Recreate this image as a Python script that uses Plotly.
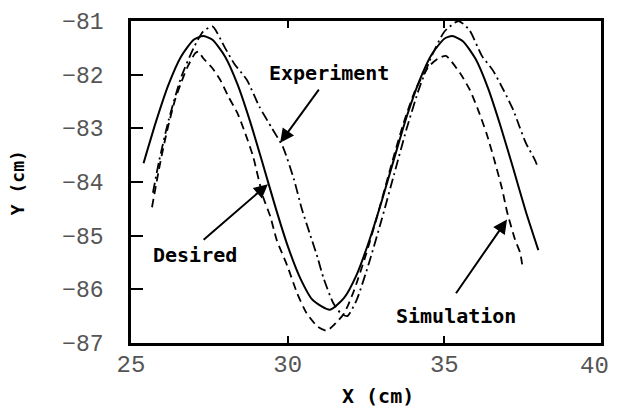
import plotly.graph_objects as go

# Desired (solid)
desired_x = [25.4, 25.8, 26.2, 26.6, 27.0, 27.3, 27.6, 28.0, 28.4, 28.8, 29.2, 29.6, 30.0, 30.4, 30.8,
             31.35, 31.8, 32.2, 32.6, 33.0, 33.4, 33.8, 34.2, 34.6, 35.0, 35.25, 35.6, 36.0, 36.4,
             36.8, 37.2, 37.6, 38.0]
desired_y = [-83.65, -82.87, -82.18, -81.66, -81.35, -81.28, -81.35, -81.66, -82.18, -82.87, -83.65,
             -84.45, -85.19, -85.79, -86.20, -86.38, -86.16, -85.73, -85.10, -84.36, -83.56, -82.78,
             -82.12, -81.62, -81.33, -81.28, -81.38, -81.71, -82.26, -82.97, -83.75, -84.55, -85.27]

# Experiment (dash-dot)
experiment_x = [25.7, 25.9, 26.2, 26.6, 27.0, 27.3, 27.6, 28.0, 28.3, 28.7, 29.1, 29.5, 29.85, 30.2,
                30.45, 30.7, 30.95, 31.15, 31.45, 31.7, 31.9, 32.2, 32.6, 33.0, 33.4, 33.8, 34.2,
                34.6, 35.0, 35.45, 35.8, 36.2, 36.55, 36.9, 37.2, 37.4, 37.6, 37.9, 38.0]
experiment_y = [-84.2, -83.6, -82.85, -82.05, -81.5, -81.2, -81.1, -81.5, -81.8, -82.1, -82.6, -83.0,
                -83.35, -83.95, -84.5, -84.95, -85.4, -85.8, -86.25, -86.45, -86.5, -86.2, -85.5,
                -84.7, -83.85, -83.0, -82.25, -81.65, -81.2, -81.0, -81.17, -81.65, -81.92, -82.3,
                -82.66, -82.97, -83.27, -83.6, -83.75]

# Simulation (dashed)
simulation_x = [25.67, 25.93, 26.15, 26.4, 26.6, 26.8, 27.05, 27.15, 27.3, 27.6, 27.85, 28.1, 28.4,
                28.65, 28.9, 29.2, 29.45, 29.65, 30.0, 30.3, 30.6, 30.95, 31.25, 31.55, 31.8, 32.1,
                32.5, 32.9, 33.3, 33.7, 34.1, 34.5, 34.8, 35.05, 35.5, 35.82, 36.08, 36.35, 36.6,
                36.84, 37.0, 37.26, 37.42, 37.5]
simulation_y = [-84.47, -83.65, -83.05, -82.48, -82.15, -81.86, -81.6, -81.57, -81.69, -81.88, -82.1,
                -82.4, -82.72, -83.1, -83.53, -84.25, -84.65, -85.08, -85.58, -86.07, -86.44, -86.69,
                -86.77, -86.62, -86.45, -86.05, -85.35, -84.55, -83.7, -82.9, -82.25, -81.85, -81.7,
                -81.65, -81.97, -82.29, -82.66, -83.1, -83.6, -84.12, -84.55, -85.08, -85.32, -85.6]

x_ticks = [25, 30, 35, 40]
x_tick_labels = ["25", "30", "35", "40"]
y_ticks = [-81, -82, -83, -84, -85, -86, -87]

fig = go.Figure()
fig.add_trace(go.Scatter(x=desired_x, y=desired_y, mode="lines", name="Desired",
                         line=dict(color="black", width=2, shape="spline", smoothing=0.6)))
fig.add_trace(go.Scatter(x=experiment_x, y=experiment_y, mode="lines", name="Experiment",
                         line=dict(color="black", width=1.8, dash="10px,4px,2px,4px", shape="spline", smoothing=0.6)))
fig.add_trace(go.Scatter(x=simulation_x, y=simulation_y, mode="lines", name="Simulation",
                         line=dict(color="black", width=1.8, dash="8px,5px", shape="spline", smoothing=0.6)))

lab_font = dict(family="DejaVu Sans Mono", size=20, color="black")
xtick_font = dict(family="Liberation Mono", size=24, color="#555")

# text labels
fig.add_annotation(x=31.32, y=-81.97, text="<b>Experiment</b>", showarrow=False, font=lab_font,
                   xanchor="center", yanchor="middle")
fig.add_annotation(x=27.04, y=-85.36, text="<b>Desired</b>", showarrow=False, font=lab_font,
                   xanchor="center", yanchor="middle")
fig.add_annotation(x=35.37, y=-86.5, text="<b>Simulation</b>", showarrow=False, font=lab_font,
                   xanchor="center", yanchor="middle")

# arrows
for (tx, ty, hx, hy) in [(31.03, -82.25, 29.76, -83.27),
                         (27.27, -85.1, 29.37, -84.04),
                         (35.34, -86.1, 37.0, -84.7)]:
    fig.add_annotation(x=hx, y=hy, ax=tx, ay=ty, xref="x", yref="y", axref="x", ayref="y",
                       text="", showarrow=True, arrowhead=2, arrowsize=1.4, arrowwidth=2,
                       arrowcolor="black")

# last x tick label, nudged left so it stays inside the page
fig.add_annotation(x=x_ticks[-1], xref="x", yref="paper", y=0, yanchor="top", yshift=-8,
                   xanchor="center", xshift=-7, text=x_tick_labels[-1], showarrow=False,
                   font=xtick_font)

# axis titles
fig.add_annotation(xref="paper", yref="paper", x=0.5255, y=-0.1646, text="<b>X (cm)</b>",
                   xanchor="center", yanchor="middle",
                   showarrow=False, font=dict(family="DejaVu Sans Mono", size=20, color="black"))
fig.add_annotation(xref="paper", yref="paper", x=-0.240, y=0.497, text="<b>Y (cm)</b>",
                   textangle=-90, showarrow=False, xanchor="center", yanchor="middle",
                   font=dict(family="DejaVu Sans Mono", size=18, color="black"))

fig.update_layout(
    width=609, height=403,
    margin=dict(l=123, r=16, t=13, b=68, autoexpand=False),
    paper_bgcolor="white", plot_bgcolor="white",
    showlegend=False,
)
fig.update_xaxes(range=[25, 40], tickvals=x_ticks, ticktext=x_tick_labels[:-1] + [""],
                 ticks="inside", ticklen=7, tickwidth=2,
                 tickcolor="black", showline=True, linecolor="black", linewidth=2.5,
                 mirror="ticks", showgrid=False, zeroline=False, ticklabelstandoff=-3,
                 automargin=False, tickfont=xtick_font)
fig.update_yaxes(range=[-87, -81], tickvals=y_ticks, ticks="inside", ticklen=12, tickwidth=2,
                 tickcolor="black", showline=True, linecolor="black", linewidth=2.5,
                 mirror=True, showgrid=False, zeroline=False, ticklabelstandoff=20,
                 automargin=False,
                 tickfont=dict(family="Liberation Mono", size=23, color="#555"))

fig.write_html("out.html")
